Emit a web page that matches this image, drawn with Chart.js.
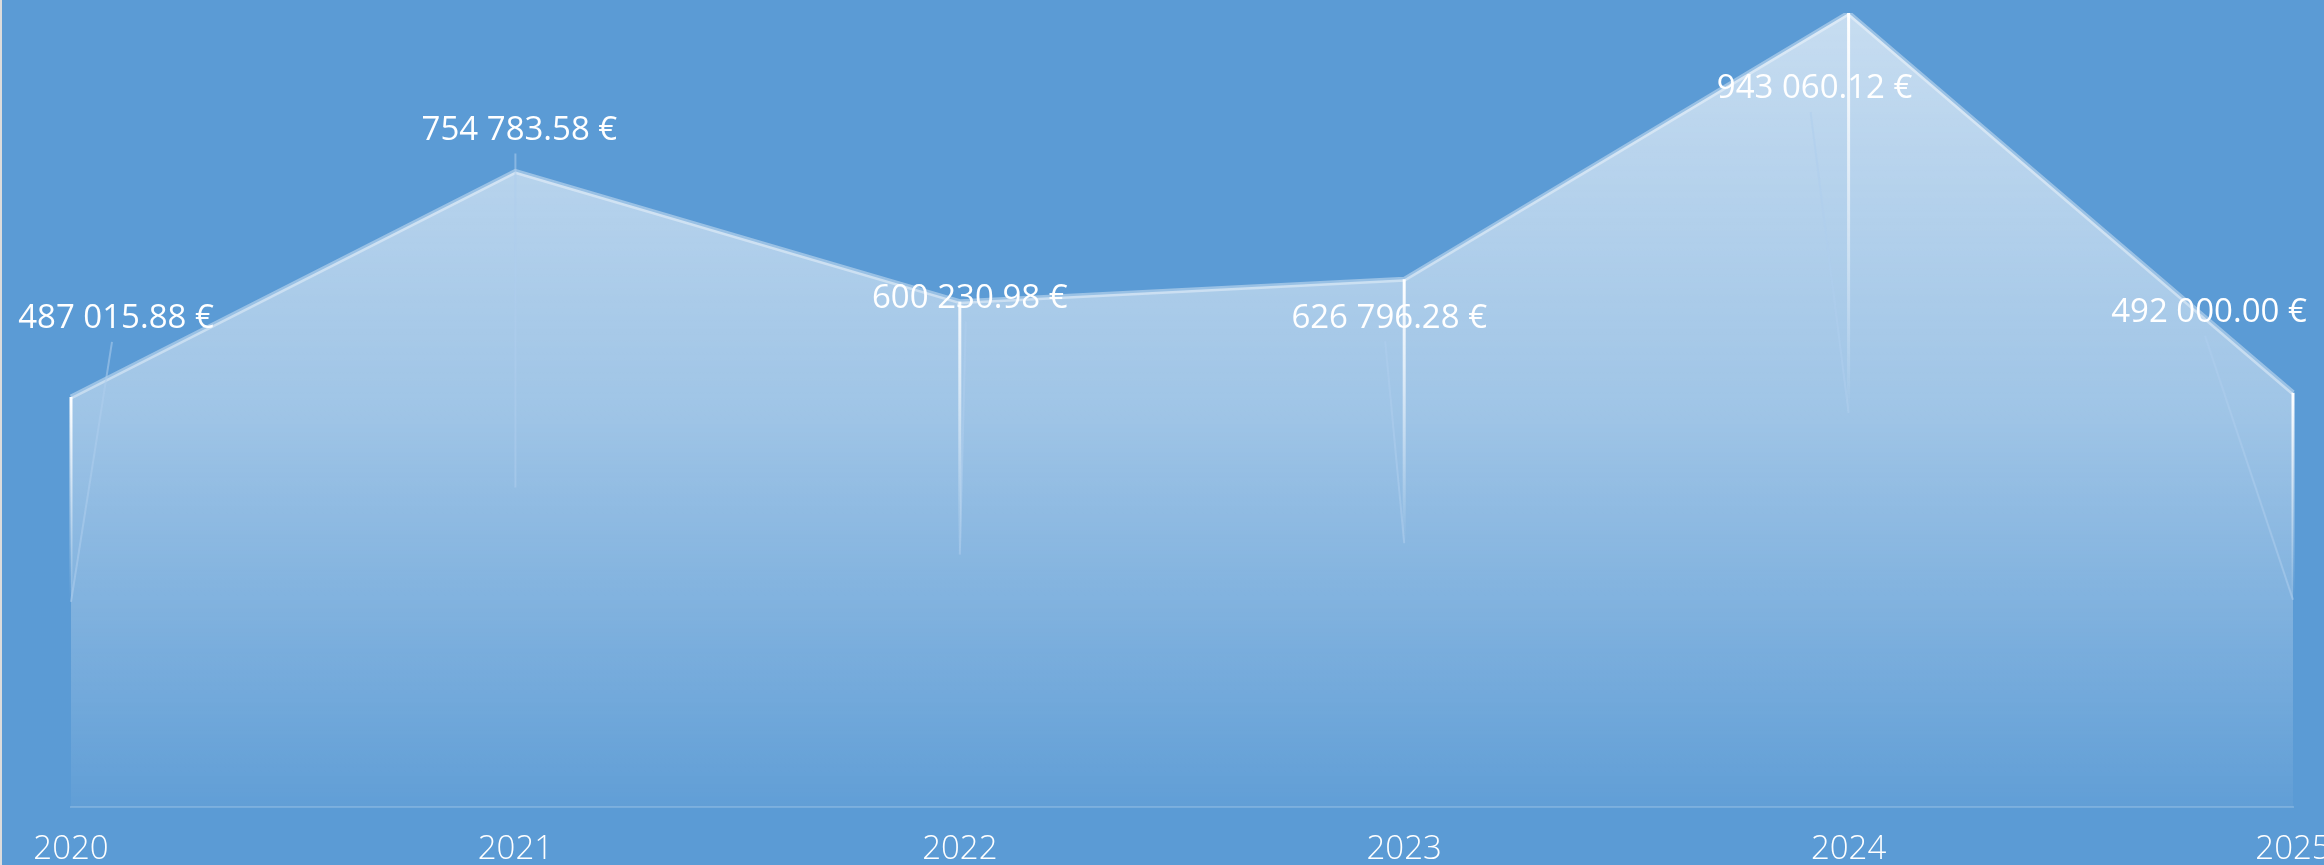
<!DOCTYPE html>
<html lang="en">
<head>
    <meta charset="UTF-8">
    <title>Revenue by year</title>
    <style>
        html, body { margin: 0; padding: 0; background: #5b9bd5; overflow: hidden; }
        #wrap { position: absolute; left: 0; top: 0; width: 2322px; height: 865px; border-left: 2px solid #dcdcdc; }
    </style>
    <script src="https://cdn.jsdelivr.net/npm/chart.js"></script>
</head>
<body>
    <div id="wrap"><canvas id="revenueChart"></canvas></div>

    <script>
        // chart values
        const years = ['2020', '2021', '2022', '2023', '2024', '2025'];
        const amounts = [487015.88, 754783.58, 600230.98, 626796.28, 943060.12, 492000.00];

        // decoration (pixel offsets relative to each point)
        const labelShift = [[45, -78], [4, -41], [10, -3], [-15, 39], [-34, 76], [-84, -80]];
        const dropLength = [205, 316, 253, 264, 400, 207];
        const dropAlpha = [1, 0, 0.9, 1, 1, 1];

        const FONT = '"Open Sans", Lato, sans-serif';

        function formatEuro(v) {
            const parts = v.toFixed(2).split('.');
            return parts[0].replace(/\B(?=(\d{3})+(?!\d))/g, ' ') + '.' + parts[1] + ' €';
        }

        const pointDecor = {
            id: 'pointDecor',
            afterDatasetsDraw(chart) {
                const ctx = chart.ctx;
                const meta = chart.getDatasetMeta(0);
                ctx.save();
                // leader lines from label to the end of the drop line
                meta.data.forEach((pt, i) => {
                    const lx = pt.x + labelShift[i][0];
                    const ly = pt.y + labelShift[i][1];
                    ctx.strokeStyle = 'rgba(175, 205, 236, 0.55)';
                    ctx.lineWidth = 2;
                    ctx.beginPath();
                    ctx.moveTo(lx - 4, ly + 23);
                    ctx.lineTo(pt.x, pt.y + dropLength[i]);
                    ctx.stroke();
                });
                // value labels
                ctx.font = '400 33px ' + FONT;
                ctx.fillStyle = '#ffffff';
                ctx.textAlign = 'center';
                ctx.textBaseline = 'middle';
                meta.data.forEach((pt, i) => {
                    ctx.fillText(formatEuro(amounts[i]), pt.x + labelShift[i][0], pt.y + labelShift[i][1]);
                });
                // white drop lines fading downward
                meta.data.forEach((pt, i) => {
                    if (!dropAlpha[i]) return;
                    const g = ctx.createLinearGradient(0, pt.y, 0, pt.y + dropLength[i]);
                    g.addColorStop(0, 'rgba(255,255,255,' + dropAlpha[i] + ')');
                    g.addColorStop(1, 'rgba(255,255,255,0)');
                    ctx.strokeStyle = g;
                    ctx.lineWidth = 3;
                    ctx.beginPath();
                    ctx.moveTo(pt.x, pt.y);
                    ctx.lineTo(pt.x, pt.y + dropLength[i]);
                    ctx.stroke();
                });
                ctx.restore();
            }
        };

        const ctx = document.getElementById('revenueChart').getContext('2d');
        new Chart(ctx, {
            type: 'line',
            data: {
                labels: years,
                datasets: [{
                    data: amounts,
                    borderColor: 'rgba(255, 255, 255, 0.38)',
                    borderWidth: 5,
                    pointRadius: 0,
                    tension: 0,
                    fill: 'origin',
                    backgroundColor: (c) => {
                        const area = c.chart.chartArea;
                        if (!area) return 'rgba(255,255,255,0.4)';
                        const g = c.chart.ctx.createLinearGradient(0, area.top, 0, area.bottom);
                        g.addColorStop(0, 'rgba(255,255,255,0.66)');
                        g.addColorStop(0.5, 'rgba(255,255,255,0.42)');
                        g.addColorStop(1, 'rgba(255,255,255,0.04)');
                        return g;
                    }
                }]
            },
            options: {
                responsive: true,
                maintainAspectRatio: false,
                animation: false,
                layout: { padding: { left: 69, right: 31, top: 13, bottom: 0 } },
                plugins: {
                    legend: { display: false },
                    tooltip: { enabled: false }
                },
                scales: {
                    x: {
                        grid: { display: false },
                        border: { display: true, color: 'rgba(255,255,255,0.18)', width: 2 },
                        ticks: {
                            color: '#ffffff',
                            padding: 15,
                            maxRotation: 0,
                            font: { family: FONT, size: 33, weight: '300' }
                        },
                        afterFit(scale) {
                            scale.height = 58;
                            scale.paddingLeft = 0;
                            scale.paddingRight = 0;
                        }
                    },
                    y: {
                        display: false,
                        min: 0,
                        max: Math.max(...amounts)
                    }
                }
            },
            plugins: [pointDecor]
        });
    </script>
</body>
</html>
